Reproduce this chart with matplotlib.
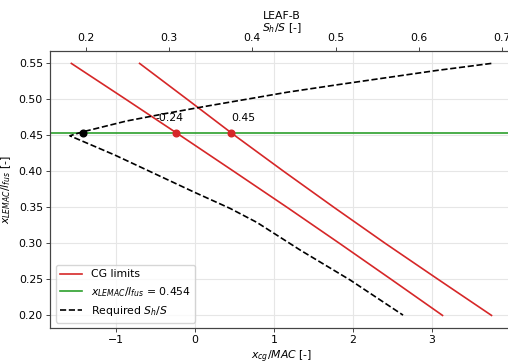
import matplotlib
matplotlib.use("Agg")
import matplotlib.pyplot as plt
from matplotlib.lines import Line2D

plt.rcParams['font.family'] = ['DejaVu Sans']
plt.rcParams['font.size'] = 7.85
plt.rcParams['mathtext.fontset'] = 'dejavusans'

# CG limits (x_cg/MAC vs x_LEMAC/l_fus)
cg_y = [0.55, 0.50, 0.45, 0.40, 0.35, 0.30, 0.25, 0.20]
cg_fwd_x = [-1.57, -0.877, -0.19, 0.49, 1.166, 1.83, 2.485, 3.135]
cg_aft_x = [-0.705, -0.10, 0.50, 1.123, 1.76, 2.41, 3.08, 3.756]

# Required Sh/S (top axis) vs x_LEMAC/l_fus
req_sh = [0.687, 0.62, 0.56, 0.500, 0.442, 0.392, 0.342, 0.294, 0.249, 0.214, 0.1964, 0.181,
          0.2352, 0.3293, 0.3734, 0.4055, 0.4576, 0.5177, 0.581]
req_y = [0.55, 0.54, 0.53, 0.52, 0.51, 0.50, 0.49, 0.48, 0.47, 0.46, 0.455, 0.4495,
         0.4226, 0.3717, 0.3486, 0.3292, 0.2907, 0.249, 0.2004]

x_lemac = 0.454
cg_points = [-0.24, 0.45]
cg_labels = ["-0.24", "0.45"]
sh_opt = 0.1964

fig = plt.figure(figsize=(5.08, 3.63), dpi=100)
ax = fig.add_axes([0.099, 0.0964, 0.910, 0.7636])

ax.plot(cg_fwd_x, cg_y, color='tab:red', lw=1.2, label='CG limits')
ax.plot(cg_aft_x, cg_y, color='tab:red', lw=1.2)
ax.axhline(x_lemac, color='tab:green', lw=1.2)
ax.plot(cg_points, [x_lemac] * len(cg_points), 'o', color='tab:red', ms=4.8)
ax.text(cg_points[0] - 0.09, x_lemac + 0.020, cg_labels[0], ha='center', va='center')
ax.text(cg_points[1] + 0.16, x_lemac + 0.020, cg_labels[1], ha='center', va='center')

ax.set_ylim(0.1825, 0.5675)
ax.set_xlim(-1.837, 4.023)
ax.set_xticks([-1, 0, 1, 2, 3])
ax.set_yticks([0.20, 0.25, 0.30, 0.35, 0.40, 0.45, 0.50, 0.55])
ax.grid(True, color='#e6e6e6', lw=0.8)
ax.set_axisbelow(True)
ax.set_xlabel('$x_{cg}/MAC$ [-]', labelpad=2)
ax.set_ylabel('$x_{LEMAC}/l_{fus}$ [-]', labelpad=4)

ax2 = ax.twiny()
ax2.plot(req_sh, req_y, color='black', ls='--', lw=1.2)
ax2.plot([sh_opt], [x_lemac], 'o', color='black', ms=4.8)
ax2.set_xlim(0.1575, 0.7125)
ax2.set_xticks([0.2, 0.3, 0.4, 0.5, 0.6, 0.7])
ax2.set_xlabel('$S_h/S$ [-]', labelpad=2)
ax2.set_title('LEAF-B', pad=1, fontsize=7.85)

for a in (ax, ax2):
    for s in a.spines.values():
        s.set_color('#444444')
        s.set_linewidth(0.8)
    a.tick_params(length=2.8, width=0.7, color='#444444', labelsize=7.85, pad=2.5)

handles = [Line2D([], [], color='tab:red', lw=1.2),
           Line2D([], [], color='tab:green', lw=1.2),
           Line2D([], [], color='black', ls='--', lw=1.2)]
labels = ['CG limits', '$x_{LEMAC}/l_{fus}$ = 0.454', 'Required $S_h/S$']
ax2.legend(handles, labels, loc='lower left', fontsize=7.85, framealpha=0.8,
           edgecolor='#cccccc', handlelength=2.0, borderpad=0.4, labelspacing=0.5)

fig.savefig('out.png', dpi=100)
